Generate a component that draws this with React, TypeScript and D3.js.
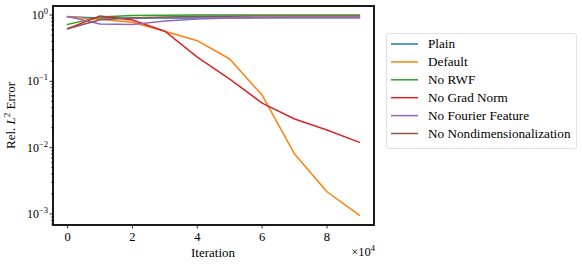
import React, { useEffect, useRef } from "react";
import * as d3 from "d3";

const iterations = [0, 1, 2, 3, 4, 5, 6, 7, 8, 9]; // x 1e4
const seriesNames = ["Plain", "Default", "No RWF", "No Grad Norm", "No Fourier Feature", "No Nondimensionalization"];
const colors = ["#1f77b4", "#ff7f0e", "#2ca02c", "#d62728", "#9467bd", "#8c564b"];
const plain = [0.94, 0.9, 0.9, 0.9, 0.9, 0.9, 0.91, 0.91, 0.91, 0.91];
const defaultS = [0.93, 0.86, 0.78, 0.57, 0.41, 0.217, 0.062, 0.008, 0.00216, 0.00096];
const noRwf = [0.72, 0.93, 0.98, 0.99, 1.0, 1.0, 1.0, 1.0, 1.0, 1.0];
const noGradNorm = [0.62, 0.97, 0.84, 0.57, 0.232, 0.108, 0.047, 0.027, 0.0184, 0.012];
const noFourier = [0.95, 0.73, 0.72, 0.81, 0.87, 0.9, 0.91, 0.92, 0.92, 0.92];
const noNondim = [0.62, 0.85, 0.9, 0.93, 0.95, 0.96, 0.97, 0.97, 0.97, 0.97];
const allSeries = [plain, defaultS, noRwf, noGradNorm, noFourier, noNondim];
const xTicks = [0, 2, 4, 6, 8];
const yTicks = [0, -1, -2, -3];

export default function App() {
  const ref = useRef<SVGSVGElement>(null);
  useEffect(() => {
    const svg = d3.select(ref.current);
    svg.selectAll("*").remove();
    const L = 53, R = 374, T = 6, B = 225;
    const font = "Liberation Serif, DejaVu Serif, serif";
    const x = d3.scaleLinear().domain([-0.45, 9.45]).range([L, R]);
    const y = d3.scaleLog().domain([10 ** -3.167, 10 ** 0.136]).range([B, T]);

    const g = svg.append("g").style("font-family", font);
    // minor ticks
    for (let e = -4; e <= 0; e++) {
      for (let m = 2; m <= 9; m++) {
        const v = m * 10 ** e;
        if (v < y.domain()[0] || v > y.domain()[1]) continue;
        g.append("line").attr("x1", L - 2).attr("x2", L).attr("y1", y(v)).attr("y2", y(v))
          .attr("stroke", "#000").attr("stroke-width", 0.6);
      }
    }
    yTicks.forEach((e) => {
      const yy = y(10 ** e);
      g.append("line").attr("x1", L - 3.5).attr("x2", L).attr("y1", yy).attr("y2", yy)
        .attr("stroke", "#000").attr("stroke-width", 0.8);
      const t = g.append("text").attr("x", L - 5).attr("y", yy + 4).attr("text-anchor", "end")
        .attr("font-size", 12);
      t.append("tspan").text("10");
      t.append("tspan").attr("dy", -5).attr("font-size", 8.5).text(e === 0 ? "0" : "\u2212" + Math.abs(e));
    });
    xTicks.forEach((v) => {
      const xx = x(v);
      g.append("line").attr("x1", xx).attr("x2", xx).attr("y1", B).attr("y2", B + 3.5)
        .attr("stroke", "#000").attr("stroke-width", 0.8);
      g.append("text").attr("x", xx).attr("y", B + 16).attr("text-anchor", "middle")
        .attr("font-size", 12.5).text(String(v));
    });

    const line = d3.line<number>().x((_, i) => x(iterations[i])).y((d) => y(d));
    allSeries.forEach((s, i) => {
      g.append("path").attr("d", line(s)).attr("fill", "none").attr("stroke", colors[i])
        .attr("stroke-width", 1.5).attr("stroke-linejoin", "round").attr("stroke-linecap", "square");
    });

    g.append("rect").attr("x", L).attr("y", T).attr("width", R - L).attr("height", B - T)
      .attr("fill", "none").attr("stroke", "#000").attr("stroke-width", 1.8);

    // axis labels
    g.append("text").attr("x", 213).attr("y", 257).attr("text-anchor", "middle")
      .attr("font-size", 13).text("Iteration");
    const xm = g.append("text").attr("x", R + 1).attr("y", 256).attr("text-anchor", "end")
      .attr("font-size", 12.5);
    xm.append("tspan").text("\u00d710");
    xm.append("tspan").attr("dy", -5).attr("font-size", 8.5).text("4");

    const yl = g.append("text").attr("transform", `translate(15,${(T + B) / 2}) rotate(-90)`)
      .attr("text-anchor", "middle").attr("font-size", 13);
    yl.append("tspan").text("Rel. ");
    yl.append("tspan").attr("font-style", "italic").text("L");
    yl.append("tspan").attr("dy", -5).attr("font-size", 9).text("2");
    yl.append("tspan").attr("dy", 5).text(" Error");

    // legend
    const lg = g.append("g");
    lg.append("rect").attr("x", 386.5).attr("y", 33.5).attr("width", 190).attr("height", 115)
      .attr("rx", 2.5).attr("fill", "#fff").attr("stroke", "#d9d9d9").attr("stroke-width", 0.8);
    seriesNames.forEach((n, i) => {
      const yy = 44 + i * 17.9;
      lg.append("line").attr("x1", 391).attr("x2", 418).attr("y1", yy).attr("y2", yy)
        .attr("stroke", colors[i]).attr("stroke-width", 1.5);
      lg.append("text").attr("x", 428).attr("y", yy + 4).attr("font-size", 13.2).text(n);
    });
  }, []);
  return (
    <svg ref={ref} width={582} height={265}
      style={{ position: "absolute", left: 0, top: 0, background: "#fff" }} />
  );
}
